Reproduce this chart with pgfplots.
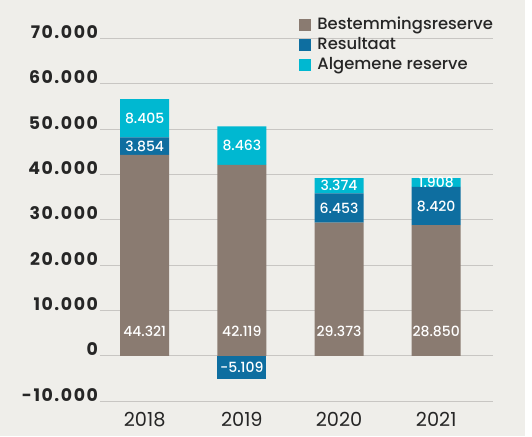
\documentclass[border=0pt]{standalone}
\usepackage{fontspec}
\setmainfont{Poppins}
\newfontfamily\pmed{Poppins Medium}
\newfontfamily\ptick{Poppins}[LetterSpace=9]
\usepackage{pgfplots}
\usepackage{pgfplotstable}
\pgfplotsset{compat=1.18}
\definecolor{bgc}{HTML}{EFEEEA}
\definecolor{cB}{HTML}{8A7B71}
\definecolor{cR}{HTML}{0E6EA0}
\definecolor{cA}{HTML}{00B8D1}
\definecolor{gridc}{HTML}{C8C6C3}
\definecolor{txt}{HTML}{262626}

\pgfplotstableread{
x B R A Rl Al
0 44321 3854 8405 3.854 8.405
1 42119 0 8463 {} 8.463
2 29373 6453 3374 6.453 3.374
3 28850 8420 1908 8.420 1.908
}\stackdata

% bottom labels of Bestemmingsreserve: transparent bars 0..10800, label at their middle (5400)
\pgfplotstableread{
x y v
0 10800 44.321
1 10800 42.119
2 10800 29.373
3 10800 28.850
}\blabels

\begin{document}
\begin{tikzpicture}
\fill[bgc] (-75pt,-26pt) rectangle (324pt,301pt);
\fill[white] (318.75pt,-26pt) rectangle (324pt,301pt);
\begin{axis}[
  at={(0,0)}, anchor=south west,
  scale only axis, width=294.75pt, height=272.25pt,
  ybar stacked, bar width=36.75pt,
  xmin=-0.46, xmax=3.585, ymin=-10000, ymax=70000,
  xtick={0,1,2,3}, xticklabels={2018,2019,2020,2021},
  ytick={-10000,0,10000,20000,30000,40000,50000,60000,70000},
  yticklabels={-10.000,0,10.000,20.000,30.000,40.000,50.000,60.000,70.000},
  scaled y ticks=false,
  ymajorgrids, grid style={gridc, line width=0.75pt},
  axis line style={draw=none}, major tick length=0pt,
  yticklabel style={anchor=base east, font=\ptick\bfseries\fontsize{13}{15}\selectfont, text=txt, xshift=2pt},
  xticklabel style={font=\fontsize{14.5}{16}\selectfont, text=txt, yshift=-5pt},
  legend style={at={(0.505,1.066)}, anchor=north west, draw=none, fill=none,
    inner sep=0pt, font=\pmed\fontsize{12.3}{14}\selectfont, text=txt,
    row sep=0.3pt, /tikz/every odd column/.append style={column sep=3pt}},
  legend cell align=left,
  nodes near coords style={anchor=center, text=white, font=\pmed\fontsize{10.5}{12}\selectfont},
]
\addplot[fill=cB, draw=none, legend image code/.code={\fill[cB] (0pt,-4.5pt) rectangle (9pt,4.5pt);}] table[x=x, y=B] \stackdata;
\addlegendentry{Bestemmingsreserve}
\addplot[fill=cR, draw=none, nodes near coords, point meta=explicit symbolic,
  legend image code/.code={\fill[cR] (0pt,-4.5pt) rectangle (9pt,4.5pt);}] table[x=x, y=R, meta=Rl] \stackdata;
\addlegendentry{Resultaat}
\addplot[fill=cA, draw=none, nodes near coords, point meta=explicit symbolic,
  legend image code/.code={\fill[cA] (0pt,-4.5pt) rectangle (9pt,4.5pt);}] table[x=x, y=A, meta=Al] \stackdata;
\addlegendentry{Algemene reserve}
\addplot[stack plots=false, fill=cR, draw=none, forget plot,
  nodes near coords, point meta=explicit symbolic] coordinates {(1,-5109) [-5.109]};
\addplot[stack plots=false, draw=none, fill=none, forget plot,
  nodes near coords, point meta=explicit symbolic]
  table[x=x, y=y, meta=v] \blabels;
\end{axis}
\pgfresetboundingbox
\path[use as bounding box] (-75pt,-26pt) rectangle (324pt,301pt);
\end{tikzpicture}
\end{document}
